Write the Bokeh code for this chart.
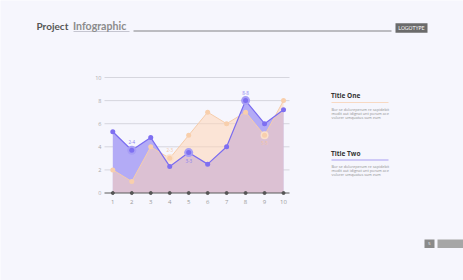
from bokeh.plotting import figure
from bokeh.models import Range1d, Label, ColumnDataSource
from bokeh.core.properties import value
from bokeh.embed import file_html
from bokeh.resources import INLINE

# ---- data ----
x_values = [1, 2, 3, 4, 5, 6, 7, 8, 9, 10]
series_one = [2, 1, 4, 3, 5, 7, 6, 7, 5, 8]                # peach (Title One)
series_two = [5.3, 3.7, 4.8, 2.3, 3.5, 2.5, 4, 8, 6, 7.2]  # purple (Title Two)
y_ticks = [0, 2, 4, 6, 8, 10]
x_ticks = x_values
x_tick_labels = [str(v) for v in x_ticks]
y_tick_labels = [str(v) for v in y_ticks]
two_marked = [2, 5, 8]
two_marked_labels = ["2-4", "3-3", "8-8"]
two_marked_above = [True, False, True]
one_marked = [4, 9]
one_marked_labels = ["2-3", "5-5"]
one_marked_above = [True, False]
titles = ["Title One", "Title Two"]
body_lines = ["Bor se doloreperum re sapidebit",
              "modit aut idignat unt porum ace",
              "volorer umquatus sum eum"]

W, H = 463, 280
BG = "#f6f6fd"
PURPLE = "#7a6cf0"
PURPLE_FILL = "#b3abf6"
PEACH = "#f6cdab"
PEACH_FILL = (255, 212, 182)
FONT = "Open Sans"

# pixel geometry of the chart area (frame covers the whole canvas)
XS, X1PX = 18.97, 112.3      # px per x unit, pixel of x = 1
YS, Y0PX = 11.55, 192.5      # px per y unit, pixel of y = 0


def dx(px):
    return 1 + (px - X1PX) / XS


def dy(py):
    return (Y0PX - py) / YS


p = figure(width=W, height=H, output_backend="svg", toolbar_location=None,
           x_range=Range1d(dx(0), dx(W)), y_range=Range1d(dy(H), dy(0)),
           min_border=0, x_axis_location=None, y_axis_location=None,
           background_fill_color=BG, border_fill_color=BG,
           outline_line_color=None)
p.grid.visible = False

GRID_L, GRID_R = dx(104), dx(289)

# grid lines and axis line
gsrc = ColumnDataSource(dict(y=y_ticks[1:], x0=[GRID_L] * (len(y_ticks) - 1),
                             x1=[GRID_R] * (len(y_ticks) - 1)))
p.segment(x0="x0", y0="y", x1="x1", y1="y", source=gsrc, line_color="#d6d6de", line_width=1)

src = ColumnDataSource(dict(x=x_values, one=series_one, two=series_two,
                            zero=[0] * len(x_values)))

# areas
p.varea(x="x", y1="zero", y2="two", source=src, fill_color=PURPLE_FILL, fill_alpha=1)
p.varea(x="x", y1="zero", y2="one", source=src, fill_color=PEACH_FILL, fill_alpha=0.54)

# x axis line, dots and tick labels
p.segment(x0=[GRID_L], y0=[0], x1=[GRID_R], y1=[0], line_color="#5a5a5a", line_width=1)
p.scatter(x="x", y="zero", source=src, size=3, color="#555555")
p.text(x=x_ticks, y=[0] * len(x_ticks), text=x_tick_labels, y_offset=9,
       text_font=value(FONT), text_font_size="6px", text_color="#9a9a9a",
       text_align="center", text_baseline="middle")
p.text(x=[GRID_L] * len(y_ticks), y=y_ticks, text=y_tick_labels, x_offset=-3,
       text_font=value(FONT), text_font_size="5.5px", text_color="#aaaaaa",
       text_align="right", text_baseline="middle")

# peach series
p.line(x="x", y="one", source=src, line_color=PEACH, line_width=1)
one_idx = [x_values.index(v) for v in one_marked]
one_src = ColumnDataSource(dict(x=one_marked, y=[series_one[i] for i in one_idx],
                                t=one_marked_labels,
                                off=[-8 if a else 8 for a in one_marked_above]))
p.scatter(x="x", y="y", source=one_src, size=8, fill_color="#fbe0cb", line_color=None)
p.scatter(x="x", y="one", source=src, size=5, fill_color="#f8cfac", line_color=None)
p.text(x="x", y="y", text="t", source=one_src, y_offset="off",
       text_font=value(FONT), text_font_size="4.5px", text_color="#f3c7a5",
       text_align="center", text_baseline="middle")

# purple series
p.line(x="x", y="two", source=src, line_color=PURPLE, line_width=1.2)
two_idx = [x_values.index(v) for v in two_marked]
two_src = ColumnDataSource(dict(x=two_marked, y=[series_two[i] for i in two_idx],
                                t=two_marked_labels,
                                off=[-8 if a else 8 for a in two_marked_above]))
p.scatter(x="x", y="y", source=two_src, size=9, fill_color="#a79ef5", line_color=None)
p.scatter(x="x", y="two", source=src, size=5, fill_color="#7e6ff1", line_color=None)
p.text(x="x", y="y", text="t", source=two_src, y_offset="off",
       text_font=value(FONT), text_font_size="4.5px", text_color="#8a7ef0",
       text_align="center", text_baseline="middle")


# ---- decorations (positioned in pixels, converted to data space) ----
def clabel(x, y, text, **kw):
    kw.setdefault("text_font", FONT)
    p.add_layout(Label(x=dx(x), y=dy(y), text=text, text_baseline="middle", **kw))


def cbox(left, top, right, bottom, color):
    p.quad(left=[dx(left)], right=[dx(right)], top=[dy(top)], bottom=[dy(bottom)],
           fill_color=color, line_color=None)


# header
clabel(36, 25.5, "Project", text_font="Lato", text_font_style="bold",
       text_font_size="10px", text_color="#555555")
clabel(72.5, 25.5, "Infographic", text_font="Lato", text_font_style="bold",
       text_font_size="10.6px", text_color="#8c8c8c")
cbox(73, 30.5, 129, 31.2, "#b5b5c0")
cbox(133, 29.8, 391, 31.3, "#a9a9ad")
cbox(395, 22.7, 427, 32.3, "#6b6b6b")
clabel(411, 27.5, "LOGOTYPE", text_font="DejaVu Sans Condensed", text_font_size="5.5px",
       text_color="#ffffff", text_align="center")

# side notes
for title, ty, ly, col in [(titles[0], 95, 102, "#f8d9c2"), (titles[1], 153, 159.5, "#a79ef2")]:
    clabel(330.5, ty, title, text_font_style="bold", text_font_size="6.5px", text_color="#333333")
    cbox(331, ly - 0.6, 388, ly + 0.6, col)
    for k, line in enumerate(body_lines):
        clabel(331, ly + 6.5 + 4 * k, line, text_font_size="3.8px", text_color="#8f8f8f")

# footer
cbox(424, 239, 434, 247.5, "#8a8a8a")
clabel(429, 243, "5", text_font_size="4px", text_color="#ffffff", text_align="center")
cbox(437, 239, 463, 247.5, "#a6a6a6")

open("out.html", "w").write(file_html(p, INLINE))
